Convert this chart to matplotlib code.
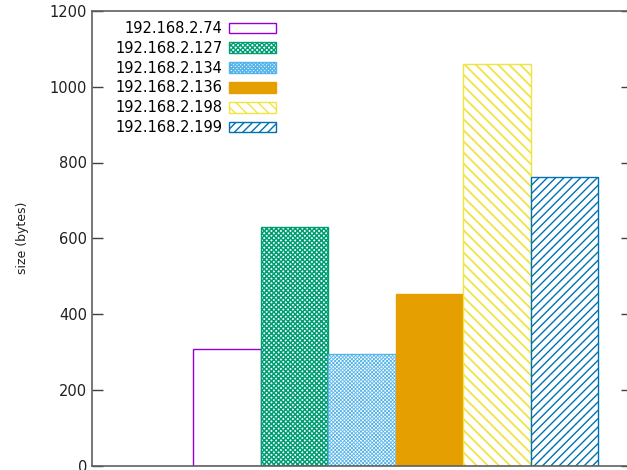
import matplotlib
matplotlib.use("Agg")
import matplotlib.pyplot as plt

hosts = ["192.168.2.74", "192.168.2.127", "192.168.2.134",
         "192.168.2.136", "192.168.2.198", "192.168.2.199"]
sizes = [308, 629, 294, 452, 1060, 762]
colors = ["#9400d3", "#009e73", "#56b4e9", "#e69f00", "#f0e442", "#0072b2"]
hatches = [None, "xxxxxxx", "xxxxxxxxx", None, "\\\\\\", "////"]
hatch_lw = [1.0, 1.1, 0.6, 1.0, 1.3, 1.0]
filled = [False, False, False, True, False, False]

plt.rcParams["font.family"] = "DejaVu Sans"

fig = plt.figure(figsize=(6.27, 4.70), dpi=100)
# axes runs past the right edge of the figure, like the cropped original
ax = fig.add_axes([92 / 627, 4.5 / 470, 540 / 627, 454.5 / 470])

for i, (h, v, c, ht, f) in enumerate(zip(hosts, sizes, colors, hatches, filled)):
    with plt.rc_context({"hatch.linewidth": hatch_lw[i]}):
        ax.bar(i, v, width=1.0, facecolor=c if f else "white", edgecolor=c,
               hatch=ht, linewidth=1.0, label=h)

ax.set_xlim(-2, 6)
ax.set_ylim(0, 1200)
ax.set_yticks(range(0, 1201, 200))
ax.set_xticks([])
ax.tick_params(axis="y", direction="in", length=8, width=1, color="#404040",
               right=True, labelsize=10.5, labelcolor="#202020")
for s in ax.spines.values():
    s.set_color("#606060")
    s.set_linewidth(1.2)
ax.set_ylabel("size (bytes)", fontsize=9, color="#202020", labelpad=15)

leg = ax.legend(loc="upper right", bbox_to_anchor=(276 / 627, 449 / 470),
                bbox_transform=fig.transFigure, frameon=False, markerfirst=False,
                fontsize=10.5, handlelength=3.2, handleheight=0.75,
                handletextpad=0.45, labelspacing=0.33, borderpad=0,
                borderaxespad=0)

fig.savefig("out.png", dpi=100)
